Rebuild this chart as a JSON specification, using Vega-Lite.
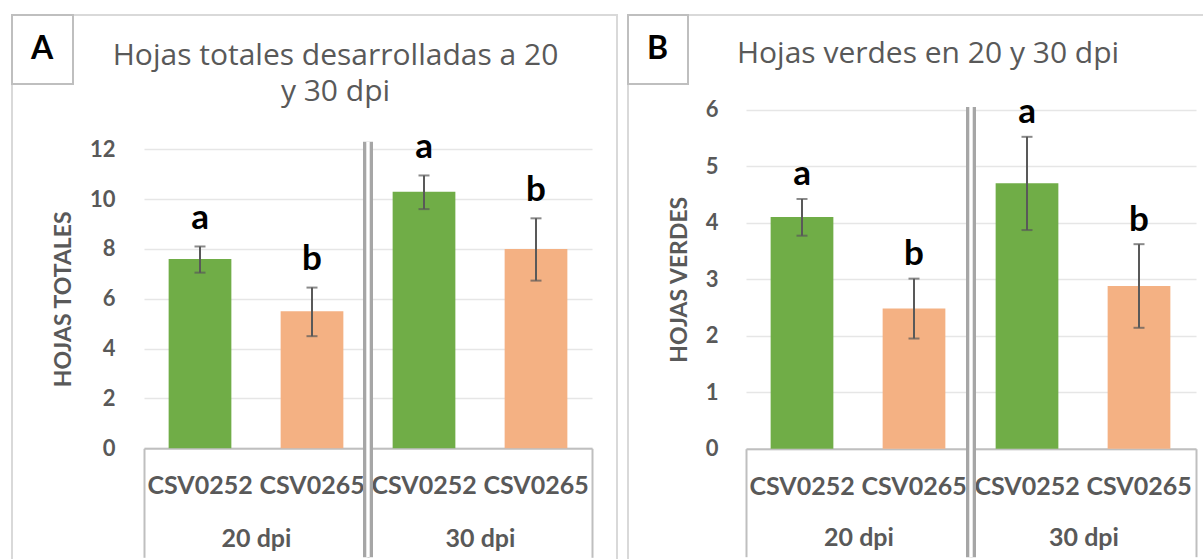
{
  "$schema": "https://vega.github.io/schema/vega-lite/v6.json",
  "padding": {"left": 10, "top": 13, "right": 0, "bottom": 0},
  "background": "white",
  "spacing": 8,
  "datasets": {
    "hojas": [
      {"panel": "A", "dpi": "20 dpi", "cultivar": "CSV0252", "value": 7.6, "lo": 7.05, "hi": 8.1, "letter": "a"},
      {"panel": "A", "dpi": "20 dpi", "cultivar": "CSV0265", "value": 5.5, "lo": 4.5, "hi": 6.45, "letter": "b"},
      {"panel": "A", "dpi": "30 dpi", "cultivar": "CSV0252", "value": 10.3, "lo": 9.6, "hi": 10.95, "letter": "a"},
      {"panel": "A", "dpi": "30 dpi", "cultivar": "CSV0265", "value": 8.0, "lo": 6.73, "hi": 9.23, "letter": "b"},
      {"panel": "B", "dpi": "20 dpi", "cultivar": "CSV0252", "value": 4.1, "lo": 3.77, "hi": 4.42, "letter": "a"},
      {"panel": "B", "dpi": "20 dpi", "cultivar": "CSV0265", "value": 2.48, "lo": 1.95, "hi": 3.01, "letter": "b"},
      {"panel": "B", "dpi": "30 dpi", "cultivar": "CSV0252", "value": 4.7, "lo": 3.87, "hi": 5.52, "letter": "a"},
      {"panel": "B", "dpi": "30 dpi", "cultivar": "CSV0265", "value": 2.88, "lo": 2.14, "hi": 3.62, "letter": "b"}
    ]
  },
  "config": {
    "view": {"stroke": "#d9d9d9", "strokeWidth": 2},
    "font": "Lato",
    "axisY": {"domain": false, "ticks": false, "format": "d", "labelFont": "Lato", "labelFontWeight": "bold", "labelFontSize": 22, "labelColor": "#595959", "grid": true, "gridColor": "#e6e6e6", "gridWidth": 1.5, "titleFont": "Lato", "titleFontWeight": "bold", "titleFontSize": 23, "titleColor": "#595959", "titlePadding": 14},
    "axisX": {"tickBand": "extent", "tickColor": "#bfbfbf", "tickWidth": 2, "domainColor": "#bfbfbf", "domainWidth": 2, "labelAngle": 0, "labelBaseline": "alphabetic", "labelFont": "Lato", "labelFontWeight": "bold", "labelFontSize": 25, "labelColor": "#595959", "grid": false},
    "legend": {"orient": "top-left", "offset": 0, "padding": 19, "strokeColor": "#bfbfbf", "strokeWidth": 2, "fillColor": "white", "titleFont": "Lato", "titleFontSize": 32, "titleFontWeight": "bold", "titleColor": "black", "titlePadding": 0},
    "title": {"font": "Open Sans", "fontSize": 30, "fontWeight": "normal", "color": "#595959", "frame": "group", "anchor": "middle", "baseline": "top", "lineHeight": 36}
  },
  "resolve": {"scale": {"color": "independent"}, "legend": {"color": "independent"}},
  "hconcat": [
    {
      "width": 605,
      "height": 547,
      "title": {"text": ["Hojas totales desarrolladas a 20", "y 30 dpi"], "dx": 21, "offset": -92.8},
      "data": {"name": "hojas"},
      "transform": [{"filter": "datum.panel === 'A'"}],
      "layer": [
        {
          "mark": {"type": "bar"},
          "encoding": {
            "x": {"field": "dpi", "type": "nominal", "title": null, "scale": {"domain": ["20 dpi", "30 dpi"], "range": [132, 580], "paddingInner": 0, "paddingOuter": 0}, "axis": {"orient": "bottom", "offset": -113.7, "tickSize": 109, "labelPadding": -11.3}},
            "xOffset": {"field": "cultivar", "type": "nominal", "scale": {"domain": ["CSV0252", "CSV0265"], "paddingInner": 0.44, "paddingOuter": 0.22}},
            "y": {"field": "value", "type": "quantitative", "scale": {"domain": [0, 12], "range": [433.3, 134.3], "nice": false, "zero": true}, "axis": {"title": "HOJAS TOTALES", "values": [0, 2, 4, 6, 8, 10, 12], "offset": -132, "labelPadding": 29}},
            "color": {"field": "cultivar", "type": "nominal", "scale": {"domain": ["CSV0252", "CSV0265"], "range": ["#70ad47", "#f4b183"]}, "legend": {"title": "A", "values": []}}
          }
        },
        {
          "mark": {"type": "rule", "color": "#595959", "strokeWidth": 2},
          "encoding": {
            "x": {"field": "dpi", "type": "nominal", "title": null},
            "xOffset": {"field": "cultivar", "type": "nominal"},
            "y": {"field": "lo", "type": "quantitative"},
            "y2": {"field": "hi"}
          }
        },
        {
          "mark": {"type": "tick", "color": "#595959", "thickness": 2, "size": 11},
          "encoding": {
            "x": {"field": "dpi", "type": "nominal", "title": null},
            "xOffset": {"field": "cultivar", "type": "nominal"},
            "y": {"field": "lo", "type": "quantitative"}
          }
        },
        {
          "mark": {"type": "tick", "color": "#595959", "thickness": 2, "size": 11},
          "encoding": {
            "x": {"field": "dpi", "type": "nominal", "title": null},
            "xOffset": {"field": "cultivar", "type": "nominal"},
            "y": {"field": "hi", "type": "quantitative"}
          }
        },
        {
          "mark": {"type": "text", "dy": -17.5, "baseline": "alphabetic", "font": "Lato", "fontSize": 35, "fontWeight": "bold", "color": "black"},
          "encoding": {
            "x": {"field": "dpi", "type": "nominal", "title": null},
            "xOffset": {"field": "cultivar", "type": "nominal"},
            "y": {"field": "hi", "type": "quantitative"},
            "text": {"field": "letter"}
          }
        },
        {
          "mark": {"type": "text", "dy": 46, "baseline": "alphabetic", "font": "Lato", "fontSize": 25, "fontWeight": "bold", "color": "#595959"},
          "encoding": {
            "x": {"field": "dpi", "type": "nominal", "title": null},
            "xOffset": {"field": "cultivar", "type": "nominal"},
            "y": {"datum": 0, "type": "quantitative"},
            "text": {"field": "cultivar"}
          }
        },
        {
          "data": {"values": [{}]},
          "mark": {"type": "rule", "color": "#a6a6a6", "strokeWidth": 10},
          "encoding": {
            "x": {"datum": "30 dpi", "type": "nominal", "bandPosition": 0, "title": null},
            "y": {"datum": 12.3, "type": "quantitative"},
            "y2": {"datum": -4.37}
          }
        },
        {
          "data": {"values": [{}]},
          "mark": {"type": "rule", "color": "white", "strokeWidth": 3.4},
          "encoding": {
            "x": {"datum": "30 dpi", "type": "nominal", "bandPosition": 0, "title": null},
            "y": {"datum": 12.3, "type": "quantitative"},
            "y2": {"datum": -4.37}
          }
        }
      ]
    },
    {
      "width": 581,
      "height": 547,
      "title": {"text": "Hojas verdes en 20 y 30 dpi", "dx": 9.5, "offset": -55.3},
      "data": {"name": "hojas"},
      "transform": [{"filter": "datum.panel === 'B'"}],
      "layer": [
        {
          "mark": {"type": "bar"},
          "encoding": {
            "x": {"field": "dpi", "type": "nominal", "title": null, "scale": {"domain": ["20 dpi", "30 dpi"], "range": [118, 568], "paddingInner": 0, "paddingOuter": 0}, "axis": {"orient": "bottom", "offset": -113.3, "tickSize": 108, "labelPadding": -11.7}},
            "xOffset": {"field": "cultivar", "type": "nominal", "scale": {"domain": ["CSV0252", "CSV0265"], "paddingInner": 0.44, "paddingOuter": 0.22}},
            "y": {"field": "value", "type": "quantitative", "scale": {"domain": [0, 6], "range": [433.7, 94.7], "nice": false, "zero": true}, "axis": {"title": "HOJAS VERDES", "values": [0, 1, 2, 3, 4, 5, 6], "offset": -118, "labelPadding": 28}},
            "color": {"field": "cultivar", "type": "nominal", "scale": {"domain": ["CSV0252", "CSV0265"], "range": ["#70ad47", "#f4b183"]}, "legend": {"title": "B", "values": []}}
          }
        },
        {
          "mark": {"type": "rule", "color": "#595959", "strokeWidth": 2},
          "encoding": {
            "x": {"field": "dpi", "type": "nominal", "title": null},
            "xOffset": {"field": "cultivar", "type": "nominal"},
            "y": {"field": "lo", "type": "quantitative"},
            "y2": {"field": "hi"}
          }
        },
        {
          "mark": {"type": "tick", "color": "#595959", "thickness": 2, "size": 11},
          "encoding": {
            "x": {"field": "dpi", "type": "nominal", "title": null},
            "xOffset": {"field": "cultivar", "type": "nominal"},
            "y": {"field": "lo", "type": "quantitative"}
          }
        },
        {
          "mark": {"type": "tick", "color": "#595959", "thickness": 2, "size": 11},
          "encoding": {
            "x": {"field": "dpi", "type": "nominal", "title": null},
            "xOffset": {"field": "cultivar", "type": "nominal"},
            "y": {"field": "hi", "type": "quantitative"}
          }
        },
        {
          "mark": {"type": "text", "dy": -13.6, "baseline": "alphabetic", "font": "Lato", "fontSize": 35, "fontWeight": "bold", "color": "black"},
          "encoding": {
            "x": {"field": "dpi", "type": "nominal", "title": null},
            "xOffset": {"field": "cultivar", "type": "nominal"},
            "y": {"field": "hi", "type": "quantitative"},
            "text": {"field": "letter"}
          }
        },
        {
          "mark": {"type": "text", "dy": 46.6, "baseline": "alphabetic", "font": "Lato", "fontSize": 25, "fontWeight": "bold", "color": "#595959"},
          "encoding": {
            "x": {"field": "dpi", "type": "nominal", "title": null},
            "xOffset": {"field": "cultivar", "type": "nominal"},
            "y": {"datum": 0, "type": "quantitative"},
            "text": {"field": "cultivar"}
          }
        },
        {
          "data": {"values": [{}]},
          "mark": {"type": "rule", "color": "#a6a6a6", "strokeWidth": 10},
          "encoding": {
            "x": {"datum": "30 dpi", "type": "nominal", "bandPosition": 0, "title": null},
            "y": {"datum": 6.05, "type": "quantitative"},
            "y2": {"datum": -1.92}
          }
        },
        {
          "data": {"values": [{}]},
          "mark": {"type": "rule", "color": "white", "strokeWidth": 3.4},
          "encoding": {
            "x": {"datum": "30 dpi", "type": "nominal", "bandPosition": 0, "title": null},
            "y": {"datum": 6.05, "type": "quantitative"},
            "y2": {"datum": -1.92}
          }
        }
      ]
    }
  ]
}
